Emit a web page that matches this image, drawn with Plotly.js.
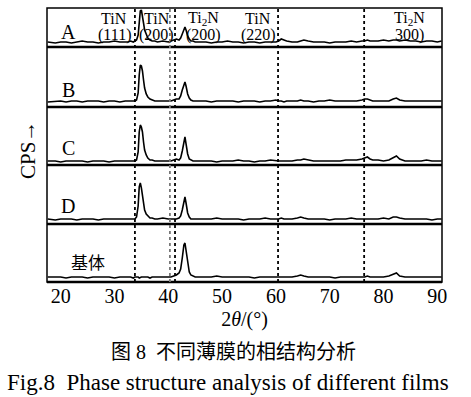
<!DOCTYPE html>
<html>
<head>
<meta charset="utf-8">
<script src="https://cdn.plot.ly/plotly-3.0.1.min.js"></script>
<style>html,body{margin:0;padding:0;background:#fff;}#chart{width:471px;height:397px;}</style>
</head>
<body>
<div id="chart"></div>
<script>
// 2θ positions (degrees)
const twoTheta = [
  17.6,19,20,21,22,23,24,25,26,27,28,29,30,31,32,
  32.5,33,33.5,33.8,34.1,34.4,34.6,34.8,35,35.2,
  35.4,35.6,35.9,36.2,36.6,37,37.5,38,39,40,
  40.5,41,41.5,42,42.3,42.6,42.9,43.1,43.3,43.6,
  43.9,44.2,44.6,45,46,47,48,49,50,51,
  52,53,54,55,56,57,58,59,60,60.5,
  61,61.5,62,63,64,64.6,65.2,66,67,68,
  69,70,71,72,73,74,75,76,76.5,77,
  77.5,78,79,80,81,81.8,82.4,83,84,85,
  86,87,88,89,90,90.8
];
// intensity (a.u.) for each film
const filmA = [
  1,0,1,1,0,1,2,1,1,0,1,1,2,1,1,
  1,2,1,2,3,8,22,32,33,28,
  20,13,8,5,3,2,2,1,2,1,
  2,3,4,3,5,9,14,16,13,7,
  4,2,2,1,1,1,0,1,1,2,
  1,1,0,1,1,0,1,1,1,2,
  4,3,2,1,1,2,3,2,1,1,
  1,0,1,1,1,2,1,2,2,3,
  2,2,2,3,2,3,3,2,3,2,
  2,1,2,2,1,2
];
const filmB = [
  0,1,1,0,1,1,0,1,1,1,0,1,1,0,1,
  1,1,1,1,2,9,27,37,36,31,
  22,14,8,5,3,2,1,1,1,1,
  1,2,3,3,6,12,18,20,16,8,
  4,2,1,1,1,1,0,1,1,1,
  1,0,1,1,1,0,1,1,2,1,
  1,0,1,1,1,2,1,1,0,1,
  1,2,1,1,1,1,1,2,3,3,
  2,1,1,1,1,3,4,2,1,1,
  1,1,1,1,1,1
];
const filmC = [
  1,1,0,1,1,1,1,0,1,1,1,0,1,1,1,
  1,1,1,1,2,10,30,37,35,30,
  20,12,7,4,2,2,1,1,1,1,
  1,2,3,2,4,11,22,25,18,8,
  3,2,1,1,1,1,1,0,1,1,
  1,2,1,1,0,1,1,2,1,1,
  1,1,1,1,2,2,3,2,1,1,
  1,1,1,1,2,2,2,3,4,5,
  3,2,2,1,2,4,6,3,1,1,
  1,1,2,1,1,1
];
const filmD = [
  1,0,1,1,1,0,1,1,1,0,1,1,1,1,1,
  1,1,1,1,3,14,33,37,32,24,
  16,10,6,4,2,2,1,1,2,1,
  1,1,1,2,4,10,20,23,17,7,
  3,1,1,1,1,1,1,2,1,1,
  1,1,0,1,1,1,2,1,1,1,
  2,1,1,1,2,3,2,1,1,1,
  1,0,1,1,1,2,1,1,1,1,
  1,1,1,2,1,3,3,2,1,1,
  1,1,1,0,1,1
];
const substrate = [
  1,1,1,0,1,1,1,0,1,1,1,1,0,1,1,
  1,1,0,1,1,1,0,1,1,1,
  1,1,1,1,0,1,1,1,1,1,
  1,2,3,5,9,20,33,35,27,13,
  6,3,2,1,1,1,1,2,1,1,
  1,1,1,1,0,1,1,1,1,1,
  1,1,1,1,2,3,2,1,1,1,
  1,1,0,1,1,1,1,1,1,2,
  1,1,1,1,2,4,5,2,1,1,
  1,1,1,1,1,1
];
const panelLabels = ['A','B','C','D','基体'];
const refLines = [33.8, 40.3, 41.25, 60.4, 76.4];
const refLineColors = ['#000','#777','#000','#000','#000'];
const peakNames = ['TiN','TiN','Ti<sub>2</sub>N','TiN','Ti<sub>2</sub>N'];
const peakHkl = ['(111)','(200)','(200)','(220)','300)'];
const peakLabelX = [30.0, 37.9, 46.5, 56.7, 84.8];
const tickValues = [20,30,40,50,60,70,80,90];

const series = [filmA, filmB, filmC, filmD, substrate];
const yNames = ['y','y2','y3','y4','y5'];
const domains = [[0.8577,1],[0.6387,0.8577],[0.427,0.6387],[0.2117,0.427],[0,0.2117]];
const ranges = [[-4,35],[-5,55],[-3,55],[-4,55],[-4,54]];
const labelY = [0.912,0.7007,0.489,0.2774,0.0693];

const FONT = "'Liberation Serif', 'Times New Roman', 'Noto Sans CJK SC', serif";

const traces = series.map((s,i)=>({
  x: twoTheta, y: s, xaxis: 'x', yaxis: yNames[i],
  type: 'scatter', mode: 'lines',
  line: {color: '#000', width: 1.6},
  hoverinfo: 'skip', showlegend: false
}));

const layout = {
  width: 471, height: 397, autosize: false,
  margin: {l: 47, r: 29, t: 8, b: 115, pad: 0},
  paper_bgcolor: '#fff', plot_bgcolor: '#fff',
  font: {family: FONT, color: '#000'},
  showlegend: false,
  xaxis: {
    range: [17.46, 90.87], anchor: 'y5',
    tickvals: tickValues, ticktext: tickValues.map(String),
    ticks: '', showgrid: false, zeroline: false, showline: false,
    tickfont: {family: FONT, size: 20, color: '#000'},
    title: {text: '2<i>θ</i>/(°)', font: {family: FONT, size: 20, color: '#000'}, standoff: 5}
  },
  shapes: [],
  annotations: []
};
yNames.forEach((n,i)=>{
  const key = i===0 ? 'yaxis' : 'yaxis'+(i+1);
  layout[key] = {domain: domains[i], range: ranges[i], showticklabels: false, ticks: '',
    showgrid: false, zeroline: false, showline: false, anchor: 'x', fixedrange: true};
});
// frame
layout.shapes.push({type:'rect', xref:'paper', yref:'paper', x0:0, x1:1, y0:0, y1:1,
  line:{color:'#000', width:1.5}});
// panel separators (thick lines)
domains.forEach((d,i)=>{
  layout.shapes.push({type:'line', xref:'paper', yref:'paper', x0:0, x1:1, y0:d[0], y1:d[0],
    line:{color:'#000', width:2.5}});
});
// reference dotted lines
refLines.forEach((v,i)=>{
  layout.shapes.push({type:'line', xref:'x', yref:'paper', x0:v, x1:v, y0:0, y1:1,
    line:{color:refLineColors[i], width:1.8, dash:'dot'}});
});
// panel labels
panelLabels.forEach((t,i)=>{
  layout.annotations.push({text:t, xref:'x', yref:'paper', x: i===4 ? 25.1 : 21.4, y: labelY[i],
    xanchor:'center', yanchor:'middle', showarrow:false,
    font:{family:FONT, size: i===4 ? 17 : 20, color:'#000'}});
});
// peak labels
peakNames.forEach((t,i)=>{
  layout.annotations.push({text:t, xref:'x', yref:'paper', x: peakLabelX[i], y: 0.9599,
    xanchor:'center', yanchor:'middle', showarrow:false, font:{family:FONT, size:16, color:'#000'}});
  layout.annotations.push({text:peakHkl[i], xref:'x', yref:'paper', x: peakLabelX[i], y: 0.9015,
    xanchor:'center', yanchor:'middle', showarrow:false, font:{family:FONT, size:16, color:'#000'}});
});
// y label
layout.annotations.push({text:'CPS→', xref:'paper', yref:'paper', x:-0.048, y:0.4818,
  textangle:-90, xanchor:'center', yanchor:'middle', showarrow:false,
  font:{family:FONT, size:21, color:'#000'}});
// captions
layout.annotations.push({text:'图 8  不同薄膜的相结构分析', xref:'paper', yref:'paper', x:0.471, y:-0.2555,
  xanchor:'center', yanchor:'middle', showarrow:false, font:{family:FONT, size:20, color:'#000'}});
layout.annotations.push({text:'Fig.8  Phase structure analysis of different films', xref:'paper', yref:'paper',
  x:0.458, y:-0.3686, xanchor:'center', yanchor:'middle', showarrow:false,
  font:{family:FONT, size:23, color:'#000'}});

Plotly.newPlot('chart', traces, layout, {displayModeBar:false, staticPlot:true});
</script>
</body>
</html>
